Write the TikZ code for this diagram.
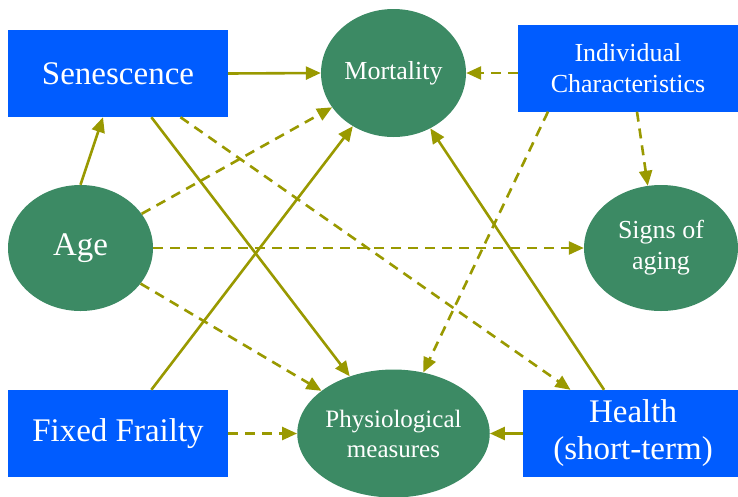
\documentclass[tikz,border=0pt]{standalone}
\usepackage{fontspec}
\setmainfont{Liberation Serif}
\usetikzlibrary{shapes.geometric,arrows.meta}
\definecolor{boxblue}{HTML}{005CFF}
\definecolor{ellgreen}{HTML}{3C8A64}
\definecolor{arrolive}{HTML}{999900}
\begin{document}
\begin{tikzpicture}[x=1pt,y=-1pt,
  bluebox/.style={rectangle,fill=boxblue,text=white,minimum width=220pt,minimum height=87pt,inner sep=0pt,align=center},
  greenell/.style={ellipse,fill=ellgreen,text=white,inner sep=0pt,align=center},
  bigtext/.style={font=\fontsize{33}{37}\selectfont},
  midtext/.style={font=\fontsize{26}{31}\selectfont},
  conn/.style={draw=arrolive,line width=2.6pt,-{Triangle[length=15pt,width=13pt]}},
  dconn/.style={conn,dash pattern=on 10pt off 7pt}
]
\useasboundingbox (0,0) rectangle (738,496);
\node[bluebox,bigtext] (sen) at (118,73.5) {Senescence};
\node[bluebox,midtext] (ind) at (628,68) {Individual\\Characteristics};
\node[bluebox,bigtext] (ff) at (118,433.5) {Fixed Frailty};
\node[bluebox,bigtext] (hlt) at (633,433.5) {Health\\(short-term)};
\node[greenell,midtext,minimum width=145pt,minimum height=128pt] (mort) at (393.5,73) {Mortality};
\node[greenell,bigtext,minimum width=145pt,minimum height=126pt] (age) at (80.5,248) {Age};
\node[greenell,midtext,minimum width=154pt,minimum height=126pt] (sign) at (661,248) {Signs of\\aging};
\node[greenell,font=\fontsize{25}{30}\selectfont,minimum width=184pt,minimum height=128pt] (phys) at (393.5,433.5) {Physiological\\measures};

\draw[conn] (sen.east) -- (mort.west);
\draw[conn] (age.north) -- ([xshift=-15pt]sen.south);
\draw[dconn] (age) -- (mort);
\draw[dconn] (age.east) -- (sign.west);
\draw[dconn] (age) -- (phys);
\draw[conn] (sen) -- (phys);
\draw[dconn] (sen) -- (hlt);
\draw[conn] (ff) -- (mort);
\draw[dconn] (ff.east) -- (phys.west);
\draw[dconn] (mort.east -| ind.west) -- (mort.east);
\draw[dconn] ([xshift=-80pt]ind.south) -- (phys.64);
\draw[dconn] ([xshift=9pt]ind.south) -- (sign.102);
\draw[conn] (hlt) -- (mort);
\draw[conn] (hlt.west) -- (phys.east);
\end{tikzpicture}
\end{document}
